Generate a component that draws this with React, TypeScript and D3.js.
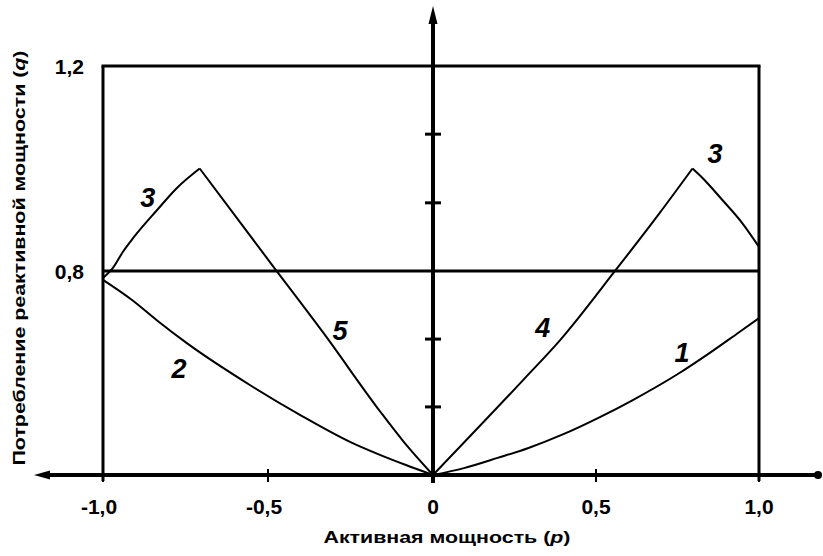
import React from "react";
import * as d3 from "d3";

// Curves of reactive power consumption q versus active power p
const curve1: [number, number][] = [
  [0, 0], [0.095, 0.027], [0.198, 0.067], [0.293, 0.106], [0.4, 0.16],
  [0.512, 0.227], [0.613, 0.294], [0.756, 0.4], [0.848, 0.478], [0.939, 0.56], [1.0, 0.615],
];
const curve2: [number, number][] = [
  [-1.0, 0.765], [-0.912, 0.686], [-0.838, 0.608], [-0.747, 0.518], [-0.555, 0.353],
  [-0.402, 0.235], [-0.25, 0.129], [-0.159, 0.078], [-0.082, 0.039], [0, 0],
];
const curve3Left: [number, number][] = [
  [-1.0, 0.773], [-0.97, 0.806], [-0.94, 0.837], [-0.909, 0.864], [-0.836, 0.919],
  [-0.776, 0.962], [-0.707, 1.0],
];
const curve3Right: [number, number][] = [
  [0.796, 1.0], [0.826, 0.982], [0.887, 0.939], [0.948, 0.894], [1.0, 0.847],
];
const curve4: [number, number][] = [
  [0, 0], [0.277, 0.373], [0.39, 0.529], [0.563, 0.804], [0.695, 0.913], [0.796, 1.0],
];
const curve5: [number, number][] = [
  [-0.707, 1.0], [-0.489, 0.813], [-0.332, 0.557], [-0.159, 0.247], [-0.088, 0.129], [0, 0],
];

const xTicks = [-1, -0.5, 0, 0.5, 1];
const xTickLabels = ["-1,0", "-0,5", "0", "0,5", "1,0"];
const yTicks = [0.8, 1.2];
const yTickLabels = ["0,8", "1,2"];
const yMinorTicks = [0.267, 0.533, 0.933, 1.067];

const curveLabels: { text: string; p: number; q: number }[] = [
  { text: "1", p: 0.764, q: 0.443 },
  { text: "2", p: -0.77, q: 0.38 },
  { text: "3", p: -0.864, q: 0.925 },
  { text: "3", p: 0.865, q: 1.01 },
  { text: "4", p: 0.337, q: 0.541 },
  { text: "5", p: -0.282, q: 0.529 },
];

const W = 823;
const H = 556;
const FONT = "'Liberation Sans', Arial, sans-serif";

export default function App() {
  const x = d3.scaleLinear().domain([-1, 0, 1]).range([103, 433, 759]);
  const y = d3.scaleLinear().domain([0, 0.8, 1.2]).range([475, 271, 66]);

  const line = d3
    .line<[number, number]>()
    .x((d) => x(d[0]))
    .y((d) => y(d[1]))
    .curve(d3.curveMonotoneX);

  const series = [curve1, curve2, curve3Left, curve3Right, curve4, curve5];
  const x0 = x(0);
  const yBase = y(0);

  return (
    <svg
      width={W}
      height={H}
      style={{ position: "absolute", left: 0, top: 0, background: "#fff" }}
      fontFamily={FONT}
    >
      <rect width={W} height={H} fill="#fff" />

      {/* frame */}
      <line x1={x(-1)} x2={x(-1)} y1={y(1.2)} y2={yBase + 6} stroke="#000" strokeWidth={3} />
      <line x1={x(1)} x2={x(1)} y1={y(1.2)} y2={yBase + 6} stroke="#000" strokeWidth={3} />
      <line x1={x(-1) - 1.5} x2={x(1) + 1.5} y1={y(1.2)} y2={y(1.2)} stroke="#000" strokeWidth={3} />
      <line x1={x(-1)} x2={x(1)} y1={y(0.8)} y2={y(0.8)} stroke="#000" strokeWidth={3} />

      {/* curves */}
      {series.map((s, i) => (
        <path key={i} d={line(s) ?? ""} fill="none" stroke="#000" strokeWidth={2} strokeLinejoin="round" />
      ))}

      {/* horizontal axis with arrow */}
      <line x1={44} x2={818} y1={yBase} y2={yBase} stroke="#000" strokeWidth={4} />
      <path d={`M34,${yBase} L50,${yBase - 4.5} L50,${yBase + 4.5} Z`} fill="#000" />
      <circle cx={818} cy={yBase} r={4} fill="#000" />
      {xTicks.map((t) => (
        <line key={t} x1={x(t)} x2={x(t)} y1={yBase - 6} y2={yBase + 7} stroke="#000" strokeWidth={2} />
      ))}

      {/* vertical axis with arrow */}
      <line x1={x0} x2={x0} y1={20} y2={yBase + 8} stroke="#000" strokeWidth={4} />
      <path d={`M${x0},6 L${x0 - 4.5},24 L${x0 + 4.5},24 Z`} fill="#000" />
      {yMinorTicks.map((t) => (
        <line key={t} x1={x0 - 8} x2={x0 + 8} y1={y(t)} y2={y(t)} stroke="#000" strokeWidth={3} />
      ))}

      {/* tick labels */}
      {xTicks.map((t, i) => (
        <text
          key={t}
          x={x(t) - (t < 0 ? 4 : 0)}
          y={514}
          textAnchor="middle"
          fontSize={21}
          fontWeight="bold"
        >
          {xTickLabels[i]}
        </text>
      ))}
      {yTicks.map((t, i) => (
        <text key={t} x={84} y={y(t) + 8} textAnchor="end" fontSize={21} fontWeight="bold">
          {yTickLabels[i]}
        </text>
      ))}

      {/* curve numbers */}
      {curveLabels.map((c, i) => (
        <text
          key={i}
          x={x(c.p)}
          y={y(c.q)}
          textAnchor="middle"
          fontSize={27}
          fontWeight="bold"
          fontStyle="italic"
        >
          {c.text}
        </text>
      ))}

      {/* axis titles */}
      <text
        x={447}
        y={543}
        textAnchor="middle"
        fontSize={17}
        fontWeight="bold"
        textLength={247}
        lengthAdjust="spacingAndGlyphs"
      >
        Активная мощность (<tspan fontStyle="italic">p</tspan>)
      </text>
      <text
        transform="translate(25,258) rotate(-90)"
        textAnchor="middle"
        fontSize={16}
        fontWeight="bold"
        textLength={415}
        lengthAdjust="spacingAndGlyphs"
      >
        Потребление реактивной мощности (<tspan fontStyle="italic">q</tspan>)
      </text>
    </svg>
  );
}
